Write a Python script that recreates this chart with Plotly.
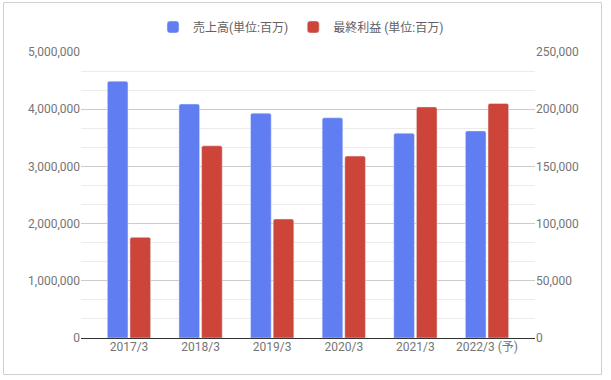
import plotly.graph_objects as go

categories = ["2017/3", "2018/3", "2019/3", "2020/3", "2021/3", "2022/3 (予)"]
sales = [4490000, 4090000, 3930000, 3850000, 3580000, 3620000]
profit = [88000, 168000, 104000, 159000, 202000, 205000]
sales_name = "売上高(単位:百万)"
profit_name = "最終利益 (単位:百万)"

FONT = "Roboto, 'Noto Sans CJK JP', sans-serif"
GRAY = "#757575"

W, H = 611, 380
L, R, T, B = 81, 611 - 535, 52, 380 - 338
PW, PH = W - L - R, H - T - B

fig = go.Figure()
fig.add_trace(go.Bar(x=categories, y=sales, name=sales_name, marker_color="#617DF2",
                     offsetgroup="a", yaxis="y"))
fig.add_trace(go.Bar(x=categories, y=profit, name=profit_name, marker_color="#CD4439",
                     offsetgroup="b", yaxis="y2"))

fig.update_layout(
    width=W, height=H,
    margin=dict(l=L, r=R, t=T, b=B, autoexpand=False),
    paper_bgcolor="white", plot_bgcolor="white",
    font=dict(family=FONT, size=12, color=GRAY),
    barmode="group", bargap=0.368, bargroupgap=0.088, barcornerradius=2,
    showlegend=True,
    legend=dict(orientation="h", x=301 / W, xanchor="center", xref="container",
                y=1 - 27 / H, yanchor="middle", yref="container", itemwidth=30,
                font=dict(size=12, color="#616161")),
    xaxis=dict(range=[-0.67, 5.67], showgrid=False, showline=False, zeroline=False,
               tickfont=dict(size=12, color=GRAY), ticks=""),
    yaxis=dict(range=[0, 5000000], dtick=1000000, tickformat=",d", showgrid=True,
               gridcolor="#cccccc", gridwidth=1, zeroline=True, zerolinecolor="#333333",
               zerolinewidth=1, showline=False, ticks="",
               minor=dict(dtick=1000000/3, showgrid=True, gridcolor="#ebebeb", gridwidth=1),
               tickfont=dict(size=12, color=GRAY)),
    yaxis2=dict(range=[0, 250000], dtick=50000, tickformat=",d", overlaying="y", side="right",
                showgrid=False, zeroline=False, showline=False, ticks="",
                tickfont=dict(size=12, color=GRAY)),
)

fig.add_shape(type="rect", xref="paper", yref="paper",
              x0=(3.5 - L) / PW, x1=(601.5 - L) / PW,
              y0=(H - B - 374.5) / PH, y1=(H - B - 2.5) / PH,
              line=dict(color="#d0d0d0", width=1), fillcolor="rgba(0,0,0,0)", layer="below")

fig.write_html("out.html", config={"displayModeBar": False},
               post_script="document.body.style.margin='0';")
